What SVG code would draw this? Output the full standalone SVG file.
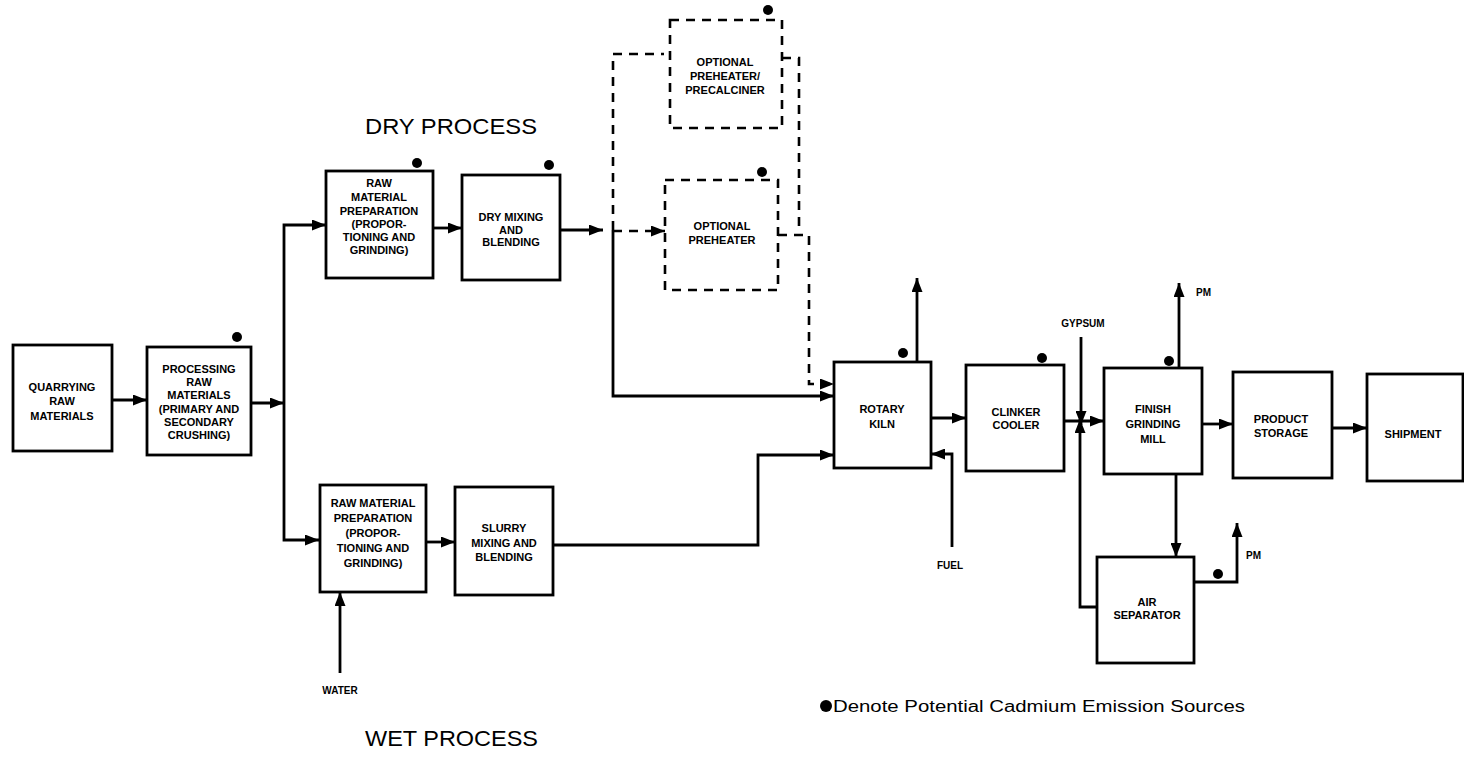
<svg xmlns="http://www.w3.org/2000/svg" width="1464" height="772" viewBox="0 0 1464 772">
<style>
.bx{fill:#fff;stroke:#000;stroke-width:2.8}
.dbx{fill:none;stroke:#000;stroke-width:2.6;stroke-dasharray:9 7}
.ln{fill:none;stroke:#000;stroke-width:2.8}
.dl{fill:none;stroke:#000;stroke-width:2.6;stroke-dasharray:9 7}
.t{font-family:"Liberation Sans",Arial,Helvetica,sans-serif;font-weight:bold;font-size:11px;text-anchor:middle;fill:#000}
.s{font-family:"Liberation Sans",Arial,Helvetica,sans-serif;font-weight:bold;font-size:10px;fill:#000}
.h{font-family:"Liberation Sans",Arial,Helvetica,sans-serif;font-size:22px;fill:#000}
.lg{font-family:"Liberation Sans",Arial,Helvetica,sans-serif;font-size:16px;fill:#000}
.dot{fill:#000}
</style>
<defs>
<marker id="ah" viewBox="0 0 14 11" refX="14" refY="5.5" markerWidth="14" markerHeight="11" markerUnits="userSpaceOnUse" orient="auto">
<path d="M0,0 L14,5.5 L0,11 z" fill="#000"/>
</marker>
</defs>
<rect width="1464" height="772" fill="#fff"/>

<g id="connectors">
<path class="ln" d="M112,400 H147" marker-end="url(#ah)"/>
<path class="ln" d="M251,403 H284" marker-end="url(#ah)"/>
<path class="ln" d="M284,403 V225 H326" marker-end="url(#ah)"/>
<path class="ln" d="M284,403 V540 H319" marker-end="url(#ah)"/>
<path class="ln" d="M433,228 H462" marker-end="url(#ah)"/>
<path class="ln" d="M560,230 H603" marker-end="url(#ah)"/>
<path class="ln" d="M613,230 V396 H834" marker-end="url(#ah)"/>
<path class="dl" d="M613,230 V54 H664"/>
<path class="dl" d="M613,231 H665" marker-end="url(#ah)"/>
<path class="dl" d="M782,58 H799 V233"/>
<path class="dl" d="M778,235 H809 V384 H834" marker-end="url(#ah)"/>
<path class="ln" d="M426,542 H455" marker-end="url(#ah)"/>
<path class="ln" d="M340,673 V592" marker-end="url(#ah)"/>
<path class="ln" d="M553,545 H758 V455 H834" marker-end="url(#ah)"/>
<path class="ln" d="M917,362 V278" marker-end="url(#ah)"/>
<path class="ln" d="M952,547 V454 H931" marker-end="url(#ah)"/>
<path class="ln" d="M931,418 H966" marker-end="url(#ah)"/>
<path class="ln" d="M1064,421 H1104" marker-end="url(#ah)"/>
<path class="ln" d="M1081,337 V425" marker-end="url(#ah)"/>
<path class="ln" d="M1097,607 H1080 V419" marker-end="url(#ah)"/>
<path class="ln" d="M1179,368 V283" marker-end="url(#ah)"/>
<path class="ln" d="M1202,424 H1233" marker-end="url(#ah)"/>
<path class="ln" d="M1332,428 H1367" marker-end="url(#ah)"/>
<path class="ln" d="M1176,474 V557" marker-end="url(#ah)"/>
<path class="ln" d="M1194,582 H1237 V523" marker-end="url(#ah)"/>
</g>

<g id="quarrying">
<rect class="bx" x="13" y="345" width="99" height="106"/>
<text class="t" x="62" y="391">QUARRYING</text>
<text class="t" x="62" y="405">RAW</text>
<text class="t" x="62" y="420">MATERIALS</text>
</g>

<g id="processing">
<rect class="bx" x="147" y="347" width="104" height="108"/>
<circle class="dot" cx="237" cy="337" r="5"/>
<text class="t" x="199" y="373">PROCESSING</text>
<text class="t" x="199" y="386">RAW</text>
<text class="t" x="199" y="399">MATERIALS</text>
<text class="t" x="199" y="413">(PRIMARY AND</text>
<text class="t" x="199" y="426">SECONDARY</text>
<text class="t" x="199" y="439">CRUSHING)</text>
</g>

<g id="dry-raw-prep">
<rect class="bx" x="326" y="171" width="107" height="107"/>
<circle class="dot" cx="417" cy="163" r="5"/>
<text class="t" x="379" y="187">RAW</text>
<text class="t" x="379" y="201">MATERIAL</text>
<text class="t" x="379" y="215">PREPARATION</text>
<text class="t" x="379" y="228">(PROPOR-</text>
<text class="t" x="379" y="241">TIONING AND</text>
<text class="t" x="379" y="254">GRINDING)</text>
</g>

<g id="dry-mixing">
<rect class="bx" x="462" y="175" width="98" height="105"/>
<circle class="dot" cx="549" cy="165" r="5"/>
<text class="t" x="511" y="221">DRY MIXING</text>
<text class="t" x="511" y="234">AND</text>
<text class="t" x="511" y="246">BLENDING</text>
</g>

<g id="preheater-precalciner">
<rect class="dbx" x="670" y="20" width="112" height="108"/>
<circle class="dot" cx="768" cy="10" r="5"/>
<text class="t" x="725" y="66">OPTIONAL</text>
<text class="t" x="725" y="80">PREHEATER/</text>
<text class="t" x="725" y="94">PRECALCINER</text>
</g>

<g id="preheater">
<rect class="dbx" x="665" y="180" width="113" height="110"/>
<circle class="dot" cx="762" cy="172" r="5"/>
<text class="t" x="722" y="230">OPTIONAL</text>
<text class="t" x="722" y="244">PREHEATER</text>
</g>

<g id="wet-raw-prep">
<rect class="bx" x="320" y="485" width="106" height="107"/>
<text class="t" x="373" y="507">RAW MATERIAL</text>
<text class="t" x="373" y="522">PREPARATION</text>
<text class="t" x="373" y="537">(PROPOR-</text>
<text class="t" x="373" y="552">TIONING AND</text>
<text class="t" x="373" y="567">GRINDING)</text>
</g>

<g id="slurry">
<rect class="bx" x="455" y="487" width="98" height="108"/>
<text class="t" x="504" y="532">SLURRY</text>
<text class="t" x="504" y="547">MIXING AND</text>
<text class="t" x="504" y="561">BLENDING</text>
</g>

<g id="water">
<text class="s" x="340" y="694" text-anchor="middle">WATER</text>
</g>

<g id="rotary-kiln">
<rect class="bx" x="834" y="362" width="97" height="106"/>
<circle class="dot" cx="903" cy="353" r="5"/>
<text class="t" x="882" y="413">ROTARY</text>
<text class="t" x="882" y="428">KILN</text>
</g>

<g id="fuel">
<text class="s" x="950" y="569" text-anchor="middle">FUEL</text>
</g>

<g id="clinker-cooler">
<rect class="bx" x="966" y="365" width="98" height="106"/>
<circle class="dot" cx="1042" cy="358" r="5"/>
<text class="t" x="1016" y="416">CLINKER</text>
<text class="t" x="1016" y="429">COOLER</text>
</g>

<g id="gypsum">
<text class="s" x="1083" y="327" text-anchor="middle">GYPSUM</text>
</g>

<g id="finish-grinding-mill">
<rect class="bx" x="1104" y="368" width="98" height="106"/>
<circle class="dot" cx="1169" cy="361" r="5"/>
<text class="t" x="1153" y="413">FINISH</text>
<text class="t" x="1153" y="428">GRINDING</text>
<text class="t" x="1153" y="443">MILL</text>
</g>

<g id="pm-mill">
<text class="s" x="1196" y="296">PM</text>
</g>

<g id="product-storage">
<rect class="bx" x="1233" y="372" width="99" height="106"/>
<text class="t" x="1281" y="423">PRODUCT</text>
<text class="t" x="1281" y="437">STORAGE</text>
</g>

<g id="shipment">
<rect class="bx" x="1367" y="374" width="96" height="107"/>
<text class="t" x="1413" y="438">SHIPMENT</text>
</g>

<g id="air-separator">
<rect class="bx" x="1097" y="557" width="97" height="106"/>
<circle class="dot" cx="1218" cy="574" r="5"/>
<text class="t" x="1147" y="606">AIR</text>
<text class="t" x="1147" y="619">SEPARATOR</text>
</g>

<g id="pm-separator">
<text class="s" x="1246" y="559">PM</text>
</g>

<g id="headings">
<text class="h" x="365" y="134" textLength="172" lengthAdjust="spacingAndGlyphs">DRY PROCESS</text>
<text class="h" x="365" y="746" textLength="173" lengthAdjust="spacingAndGlyphs">WET PROCESS</text>
</g>

<g id="legend">
<circle class="dot" cx="826" cy="706" r="6"/>
<text class="lg" x="833" y="712" textLength="412" lengthAdjust="spacingAndGlyphs">Denote Potential Cadmium Emission Sources</text>
</g>
</svg>
